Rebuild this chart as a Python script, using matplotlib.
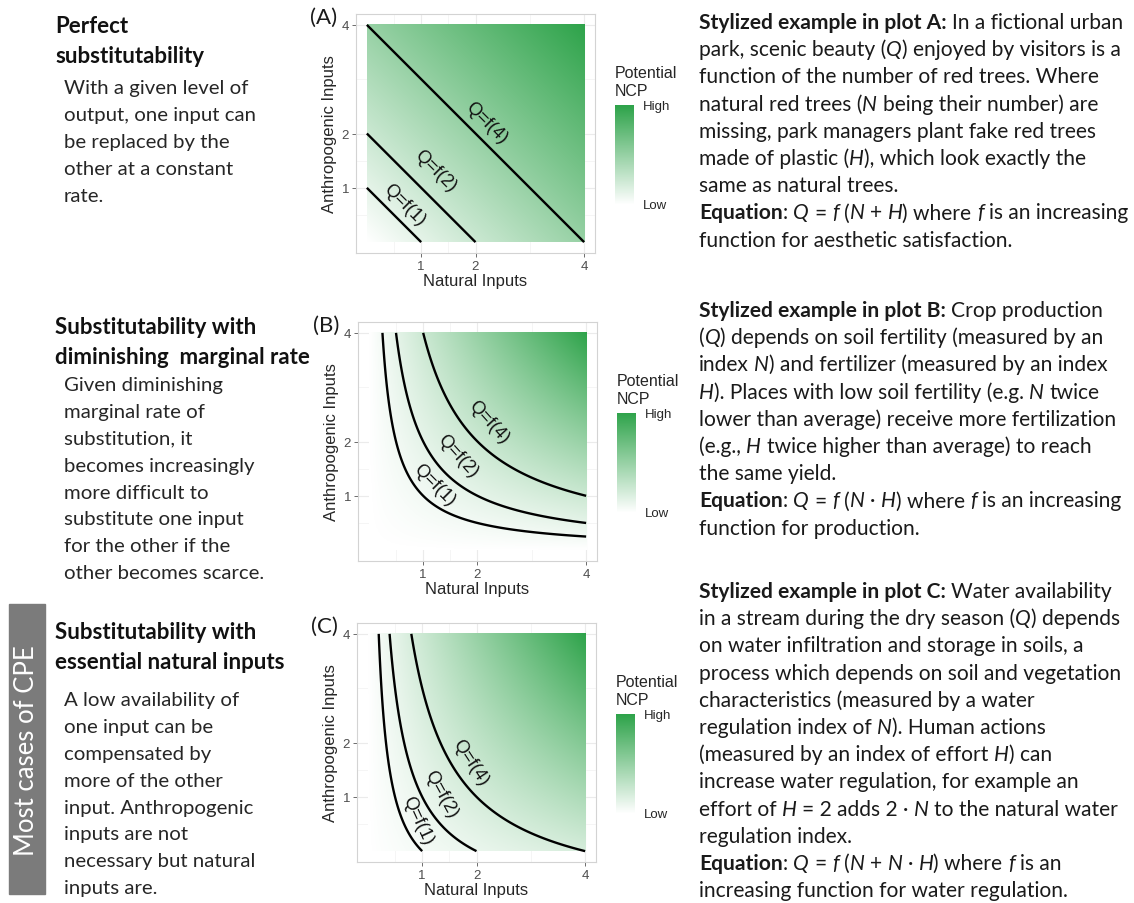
import re
import numpy as np
import matplotlib
matplotlib.use('Agg')
import matplotlib.pyplot as plt
from matplotlib.colors import LinearSegmentedColormap
from matplotlib.patches import Rectangle

W, H = 1134, 904
TEXT_FONT = ['Lato', 'DejaVu Sans']
PLOT_FONT = ['Liberation Sans', 'DejaVu Sans']

# --- chart content -------------------------------------------------------
levels = [1, 2, 4]
level_labels = ['Q=f(1)', 'Q=f(2)', 'Q=f(4)']
axis_ticks = [1, 2, 4]
minor_ticks = [0.5, 1.5, 3]
panel_tags = ['(A)', '(B)', '(C)']


def q_perfect(n, h):
    return n + h


def q_diminishing(n, h):
    return n * h


def q_essential(n, h):
    return n + n * h


headings = [
    ['Perfect', 'substitutability'],
    ['Substitutability with', 'diminishing  marginal rate'],
    ['Substitutability with', 'essential natural inputs'],
]
bodies = [
    ['With a given level of', 'output, one input can', 'be replaced by the',
     'other at a constant', 'rate.'],
    ['Given diminishing', 'marginal rate of', 'substitution, it',
     'becomes increasingly', 'more difficult to', 'substitute one input',
     'for the other if the', 'other becomes scarce.'],
    ['A low availability of', 'one input can be', 'compensated by',
     'more of the other', 'input. Anthropogenic', 'inputs are not',
     'necessary but natural', 'inputs are.'],
]

# *bold*  _italic_
examples = [
    ['*Stylized example in plot A:* In a fictional urban',
     'park, scenic beauty (_Q_) enjoyed by visitors is a',
     'function of the number of red trees. Where',
     'natural red trees (_N_ being their number) are',
     'missing, park managers plant fake red trees',
     'made of plastic (_H_), which look exactly the',
     'same as natural trees.',
     '*Equation*: _Q_ = _f_ (_N_ + _H_) where _f_ is an increasing',
     'function for aesthetic satisfaction.'],
    ['*Stylized example in plot B:* Crop production',
     '(_Q_) depends on soil fertility (measured by an',
     'index _N_) and fertilizer (measured by an index',
     '_H_). Places with low soil fertility (e.g. _N_ twice',
     'lower than average) receive more fertilization',
     '(e.g., _H_ twice higher than average) to reach',
     'the same yield.',
     '*Equation*: _Q_ = _f_ (_N_ \u00b7 _H_) where _f_ is an increasing',
     'function for production.'],
    ['*Stylized example in plot C:* Water availability',
     'in a stream during the dry season (_Q_) depends',
     'on water infiltration and storage in soils, a',
     'process which depends on soil and vegetation',
     'characteristics (measured by a water',
     'regulation index of _N_). Human actions',
     '(measured by an index of effort _H_) can',
     'increase water regulation, for example an',
     'effort of _H_ = 2 adds 2 \u00b7 _N_ to the natural water',
     'regulation index.',
     '*Equation*: _Q_ = _f_ (_N_ + _N_ \u00b7 _H_) where _f_ is an',
     'increasing function for water regulation.'],
]

# --- layout (pixels from top-left) ----------------------------------------
panel_top = [15, 323, 624]
panel_left = [356, 358, 357]
panel_size = 239
heading_y = [33, 334, 639]
body_y = [94, 391, 706]
example_y = [29, 317, 598]
label_at = [[0.5, 0.97, 2.0], [1.0, 1.35, 1.9], [0.68, 1.05, 1.62]]
label_gap = [[15, 23, 16], [16, 21, 22], [14, 18, 17]]

cmap = LinearSegmentedColormap.from_list('ncp', ['#ffffff', '#2ea34a'])

fig = plt.figure(figsize=(W / 100, H / 100), dpi=100)
renderer = fig.canvas.get_renderer()


def fx(x):
    return x / W


def fy(y):
    return 1 - y / H


def text_width(s, size, weight='normal', style='normal'):
    t = fig.text(0, 0, s, fontsize=size, fontweight=weight, fontstyle=style,
                 family=TEXT_FONT)
    w = t.get_window_extent(renderer).width
    t.remove()
    return w


def rich_line(x, y, markup, size, color='#1a1a1a'):
    space = text_width('n n', size) - text_width('nn', size)
    xpos = x
    for chunk in re.split(r'(\*[^*]+\*|_[^_]+_)', markup):
        if not chunk:
            continue
        weight, style = 'normal', 'normal'
        if chunk.startswith('*'):
            chunk, weight = chunk[1:-1], 'bold'
        elif chunk.startswith('_'):
            chunk, style = chunk[1:-1], 'italic'
        lead = len(chunk) - len(chunk.lstrip(' '))
        trail = len(chunk) - len(chunk.rstrip(' '))
        core = chunk.strip(' ')
        xpos += lead * space
        if core:
            t = fig.text(fx(xpos), fy(y), core, fontsize=size, fontweight=weight,
                         fontstyle=style, color=color, family=TEXT_FONT,
                         ha='left', va='baseline')
            xpos += t.get_window_extent(renderer).width
        xpos += trail * space


def draw_panel(i, q_func):
    ax = fig.add_axes([fx(panel_left[i]), fy(panel_top[i] + panel_size),
                       panel_size / W, panel_size / H])
    n = np.linspace(0, 4, 401)
    NN, HH = np.meshgrid(n, n)
    ZZ = q_func(NN, HH)
    ax.imshow(ZZ, extent=(0, 4, 0, 4), origin='lower', cmap=cmap, vmin=0,
              vmax=ZZ.max(), aspect='auto', interpolation='bilinear', zorder=1)
    cs = ax.contour(NN, HH, ZZ, levels=levels, colors='black', linewidths=1.7,
                    zorder=3)
    ax.set_xlim(-0.2, 4.2)
    ax.set_ylim(-0.2, 4.2)
    ax.set_xticks(axis_ticks)
    ax.set_yticks(axis_ticks)
    ax.set_xticks(minor_ticks, minor=True)
    ax.set_yticks(minor_ticks, minor=True)
    ax.grid(which='major', color='#ebebeb', linewidth=0.8)
    ax.grid(which='minor', color='#f4f4f4', linewidth=0.6)
    ax.set_axisbelow(True)
    ax.tick_params(which='major', length=3, width=0.6, color='#555555',
                   labelsize=9.5, labelcolor='#4d4d4d', pad=2)
    ax.tick_params(which='minor', length=0)
    for lab in ax.get_xticklabels() + ax.get_yticklabels():
        lab.set_family(PLOT_FONT)
    for sp in ax.spines.values():
        sp.set_color('#d3d3d3')
        sp.set_linewidth(0.8)
    ax.set_xlabel('Natural Inputs', fontsize=12, color='#262626',
                  family=PLOT_FONT, labelpad=1)
    ax.set_ylabel('Anthropogenic Inputs', fontsize=12, color='#262626',
                  family=PLOT_FONT, labelpad=3)
    ax.text(-0.08, 0.99, panel_tags[i], transform=ax.transAxes, ha='right',
            va='center', fontsize=16, family=TEXT_FONT, color='#1a1a1a')

    # contour labels sitting just above each iso-output line
    inv = ax.transData.inverted()
    for k, path in enumerate(cs.get_paths()):
        v = path.vertices
        idx = int(np.argmin(np.abs(v[:, 0] - label_at[i][k])))
        a = ax.transData.transform(v[max(idx - 3, 0)])
        b = ax.transData.transform(v[min(idx + 3, len(v) - 1)])
        d = b - a
        if d[0] < 0:
            d = -d
        d = d / np.hypot(*d)
        normal = np.array([-d[1], d[0]])
        p = ax.transData.transform(v[idx]) + label_gap[i][k] * normal
        tx, ty = inv.transform(p)
        ax.text(tx, ty, level_labels[k], rotation=np.degrees(np.arctan2(d[1], d[0])),
                rotation_mode='anchor', ha='center', va='center', fontsize=13,
                family=PLOT_FONT, color='#111111', zorder=4)

    # colour legend
    bar_left = panel_left[i] + 259
    bar_top = panel_top[i] + 91
    cax = fig.add_axes([fx(bar_left), fy(bar_top + 100), 19 / W, 100 / H])
    cax.imshow(np.linspace(0, 1, 100)[:, None], origin='lower', cmap=cmap,
               aspect='auto', extent=(0, 1, 0, 1))
    cax.set_axis_off()
    fig.text(fx(bar_left), fy(bar_top - 28), 'Potential', fontsize=11.5,
             family=PLOT_FONT, color='#262626', va='baseline')
    fig.text(fx(bar_left), fy(bar_top - 10), 'NCP', fontsize=11.5,
             family=PLOT_FONT, color='#262626', va='baseline')
    fig.text(fx(bar_left + 28), fy(bar_top + 1), 'High', fontsize=9.5,
             family=PLOT_FONT, color='#262626', va='center')
    fig.text(fx(bar_left + 28), fy(bar_top + 100), 'Low', fontsize=9.5,
             family=PLOT_FONT, color='#262626', va='center')


for i, q in enumerate([q_perfect, q_diminishing, q_essential]):
    draw_panel(i, q)

# left column descriptions
for i in range(3):
    for j, line in enumerate(headings[i]):
        fig.text(fx(55), fy(heading_y[i] + 30 * j), line, fontsize=16,
                 fontweight='bold', family=TEXT_FONT, color='#111111',
                 va='baseline')
    for j, line in enumerate(bodies[i]):
        fig.text(fx(64), fy(body_y[i] + 26.9 * j), line, fontsize=14.7,
                 family=TEXT_FONT, color='#262626', va='baseline')

# right column examples
for i in range(3):
    for j, line in enumerate(examples[i]):
        rich_line(699, example_y[i] + 27.2 * j, line, 15.1)

# grey side tab
fig.patches.append(Rectangle((fx(9), fy(895)), 36 / W, 290 / H,
                             transform=fig.transFigure, color='#7b7b7b'))
fig.text(fx(27), fy(751), 'Most cases of CPE', rotation=90, ha='center',
         va='center', fontsize=18.5, family=TEXT_FONT, color='white')

fig.savefig('out.png', dpi=100)
